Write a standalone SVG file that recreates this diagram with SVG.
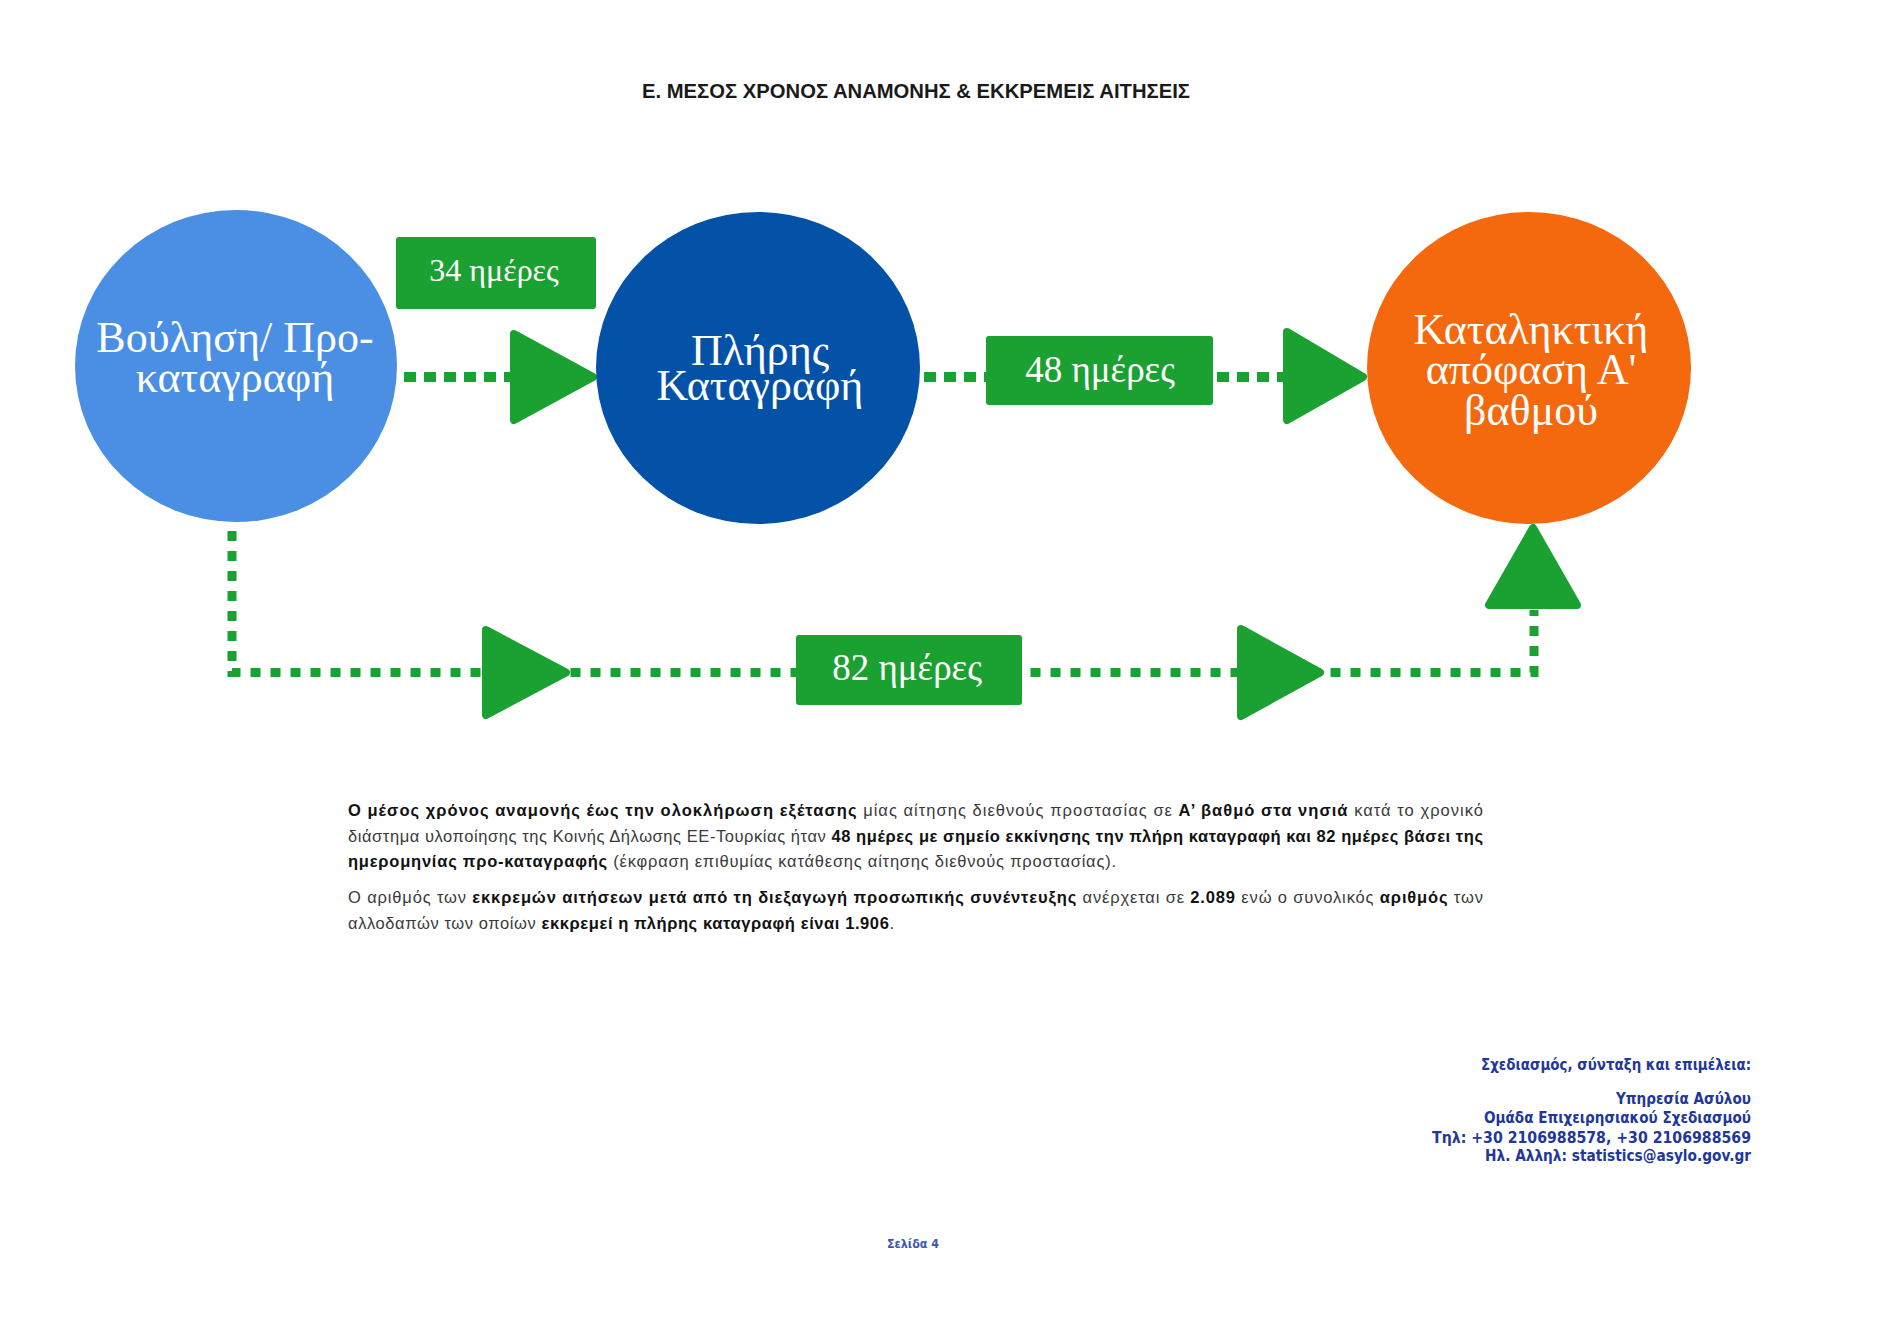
<svg xmlns="http://www.w3.org/2000/svg" width="1900" height="1317" viewBox="0 0 1900 1317">
<style>
.bg{fill:#ffffff}
.title{font-family:"Liberation Sans",Arial,sans-serif;font-weight:bold;font-size:20px;fill:#1a1a1a}
.node-text{font-family:"Liberation Serif","Times New Roman",serif;font-size:44px;fill:#ffffff;text-anchor:middle}
.lbl-box{fill:#1ba131}
.lbl-text{font-family:"Liberation Serif","Times New Roman",serif;fill:#ffffff;text-anchor:middle}
.dot-top{fill:none;stroke:#1ba131;stroke-width:10;stroke-dasharray:12 8}
.dot-bot{fill:none;stroke:#1ba131;stroke-width:9;stroke-dasharray:10 10}
.arrow{fill:#1ba131;stroke:#1ba131;stroke-width:8;stroke-linejoin:round}
.para{font-family:"Liberation Sans",Arial,sans-serif;font-size:16.5px;fill:#3a3a3a}
.b{font-weight:bold;fill:#111111}
.credit{font-family:"DejaVu Sans",Verdana,sans-serif;font-weight:bold;font-size:15px;fill:#22379a;text-anchor:end}
.page{font-family:"DejaVu Sans",Verdana,sans-serif;font-weight:bold;font-size:12px;fill:#3b56b3}
</style>
<rect class="bg" x="0" y="0" width="1900" height="1317"/>
<text class="title" x="642" y="98" textLength="548" lengthAdjust="spacingAndGlyphs">Ε. ΜΕΣΟΣ ΧΡΟΝΟΣ ΑΝΑΜΟΝΗΣ &amp; ΕΚΚΡΕΜΕΙΣ ΑΙΤΗΣΕΙΣ</text>

<g id="connectors">
  <line class="dot-top" x1="404" y1="377" x2="512" y2="377"/>
  <line class="dot-top" x1="924" y1="377" x2="986" y2="377"/>
  <line class="dot-top" x1="1217" y1="377" x2="1285" y2="377"/>
  <path class="dot-bot" d="M232,531 V672.5 H1534 V610"/>
  <polygon class="arrow" points="514,334 593,377 514,420"/>
  <polygon class="arrow" points="1287,332 1363,377 1287,420"/>
  <polygon class="arrow" points="486,630 566,672.5 486,715"/>
  <polygon class="arrow" points="1241,629 1320,672.5 1241,716"/>
  <polygon class="arrow" points="1489,605 1577,605 1533,528"/>
</g>

<g id="node-vouliisi">
  <ellipse cx="236" cy="366" rx="161" ry="156" fill="#4a8fe3"/>
  <text class="node-text"><tspan x="235" y="352">Βούληση/ Προ-</tspan><tspan x="235" y="392">καταγραφή</tspan></text>
</g>
<g id="node-pliris">
  <ellipse cx="758" cy="368" rx="162" ry="156" fill="#0352a8"/>
  <text class="node-text"><tspan x="760" y="365">Πλήρης</tspan><tspan x="760" y="400">Καταγραφή</tspan></text>
</g>
<g id="node-katalixtiki">
  <ellipse cx="1529" cy="368" rx="162" ry="156" fill="#f5690e"/>
  <text class="node-text"><tspan x="1531" y="344">Καταληκτική</tspan><tspan x="1531" y="384">απόφαση Α'</tspan><tspan x="1531" y="425">βαθμού</tspan></text>
</g>

<g id="label-34">
  <rect class="lbl-box" x="396" y="237" width="200" height="72" rx="3"/>
  <text class="lbl-text" x="494" y="281" font-size="32">34 ημέρες</text>
</g>
<g id="label-48">
  <rect class="lbl-box" x="986" y="336" width="227" height="69" rx="3"/>
  <text class="lbl-text" x="1100" y="382" font-size="37">48 ημέρες</text>
</g>
<g id="label-82">
  <rect class="lbl-box" x="796" y="635" width="226" height="70" rx="3"/>
  <text class="lbl-text" x="907" y="680" font-size="37">82 ημέρες</text>
</g>

<g id="paragraph">
  <text class="para" x="348" y="816" textLength="1135" lengthAdjust="spacing"><tspan class="b">Ο μέσος χρόνος αναμονής έως την ολοκλήρωση εξέτασης</tspan> μίας αίτησης διεθνούς προστασίας σε <tspan class="b">Α’ βαθμό στα νησιά</tspan> κατά το χρονικό</text>
  <text class="para" x="348" y="841.5" textLength="1135" lengthAdjust="spacing">διάστημα υλοποίησης της Κοινής Δήλωσης ΕΕ-Τουρκίας  ήταν <tspan class="b">48 ημέρες με σημείο εκκίνησης την πλήρη καταγραφή και 82 ημέρες βάσει της</tspan></text>
  <text class="para" x="348" y="867" textLength="768" lengthAdjust="spacing"><tspan class="b">ημερομηνίας προ-καταγραφής</tspan> (έκφραση επιθυμίας κατάθεσης αίτησης διεθνούς προστασίας).</text>
  <text class="para" x="348" y="903" textLength="1135" lengthAdjust="spacing">Ο αριθμός των <tspan class="b">εκκρεμών αιτήσεων μετά από τη διεξαγωγή προσωπικής συνέντευξης</tspan> ανέρχεται σε <tspan class="b">2.089</tspan> ενώ ο συνολικός <tspan class="b">αριθμός</tspan> των</text>
  <text class="para" x="348" y="928.5" textLength="546" lengthAdjust="spacing">αλλοδαπών των οποίων <tspan class="b">εκκρεμεί η πλήρης καταγραφή είναι 1.906</tspan>.</text>
</g>

<g id="credits">
  <text class="credit" x="1751" y="1070" textLength="270" lengthAdjust="spacingAndGlyphs">Σχεδιασμός, σύνταξη και επιμέλεια:</text>
  <text class="credit" x="1751" y="1104" textLength="135" lengthAdjust="spacingAndGlyphs">Υπηρεσία Ασύλου</text>
  <text class="credit" x="1751" y="1123" textLength="267" lengthAdjust="spacingAndGlyphs">Ομάδα Επιχειρησιακού Σχεδιασμού</text>
  <text class="credit" x="1751" y="1143" textLength="319" lengthAdjust="spacingAndGlyphs">Τηλ: +30 2106988578, +30 2106988569</text>
  <text class="credit" x="1751" y="1161" textLength="266" lengthAdjust="spacingAndGlyphs">Ηλ. Αλληλ: statistics@asylo.gov.gr</text>
</g>

<text class="page" x="887" y="1248" textLength="52" lengthAdjust="spacingAndGlyphs">Σελίδα 4</text>
</svg>
